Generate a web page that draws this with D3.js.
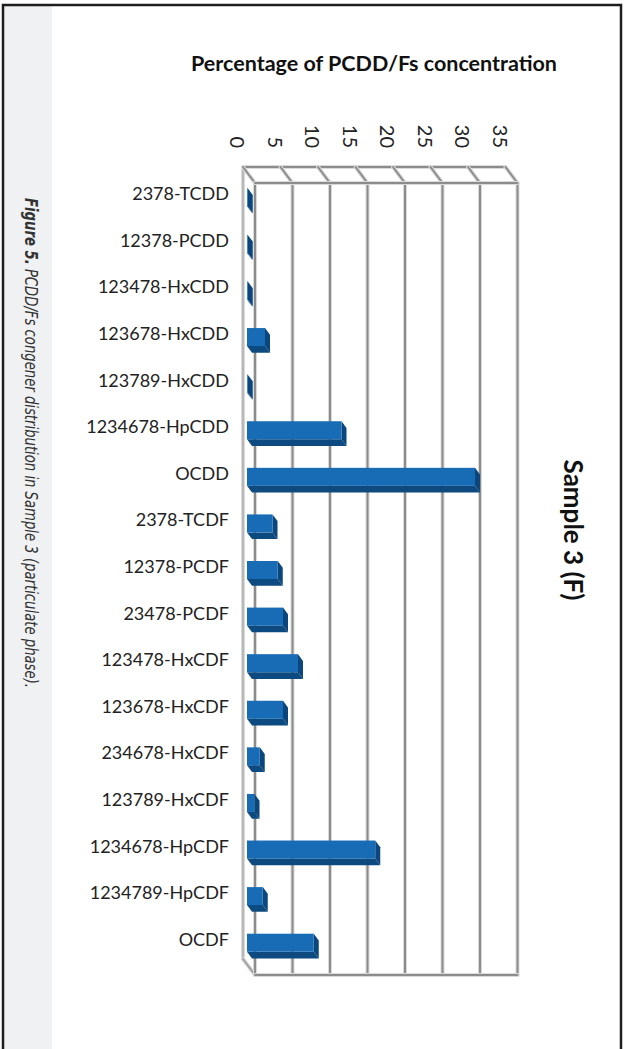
<!DOCTYPE html>
<html>
<head>
<meta charset="utf-8">
<script src="https://cdn.jsdelivr.net/npm/d3@7"></script>
<style>
  html, body { margin: 0; padding: 0; background: #fff; }
  svg { display: block; }
</style>
</head>
<body>
<script>
// Congeners along the category axis
const categories = [
  "2378-TCDD", "12378-PCDD", "123478-HxCDD", "123678-HxCDD", "123789-HxCDD",
  "1234678-HpCDD", "OCDD", "2378-TCDF", "12378-PCDF", "23478-PCDF",
  "123478-HxCDF", "123678-HxCDF", "234678-HxCDF", "123789-HxCDF",
  "1234678-HpCDF", "1234789-HpCDF", "OCDF"
];
// Percentage of total PCDD/Fs concentration
const values = [0.1, 0.1, 0.1, 2.4, 0.1, 12.6, 30.4, 3.4, 4.1, 4.8, 6.8, 4.8, 1.7, 1.0, 17.1, 2.1, 8.9];
const tickValues = [0, 5, 10, 15, 20, 25, 30, 35];

const chartTitle = "Percentage of PCDD/Fs concentration";
const seriesTitle = "Sample 3 (F)";
const captionLead = "Figure 5.";
const captionText = " PCDD/Fs congener distribution in Sample 3 (particulate phase).";

const W = 625, H = 1049;
const svg = d3.select("body").append("svg").attr("width", W).attr("height", H);

// page frame and caption strip
svg.append("rect").attr("x", 0).attr("y", 0).attr("width", W).attr("height", H).attr("fill", "#fff");
svg.append("rect").attr("x", 4).attr("y", 6).attr("width", 48).attr("height", H).attr("fill", "#f0f1f3");
svg.append("path")
  .attr("d", `M3,${H} V5 H621 V${H}`)
  .attr("fill", "none").attr("stroke", "#1e1e1e").attr("stroke-width", 2.5);

// scales: value runs left→right on the back wall, categories top→bottom
const x = d3.scaleLinear().domain([0, 35]).range([255, 517.5]);
const y = d3.scaleBand().domain(categories).range([170, 962]);
const wallTop = 183, wallBottom = 975;
const depth = { dx: -12, dy: -16 };   // wall depth (towards viewer)
const barOff = -8;                    // bar front face shift from back wall
const barDepth = { dx: 5, dy: 6.7 };  // bar thickness
const barH = 18;

const grid = svg.append("g");
function line(x1, y1, x2, y2, main) {
  grid.append("line").attr("x1", x1).attr("y1", y1).attr("x2", x2).attr("y2", y2)
    .attr("stroke", "#dadada").attr("stroke-width", 4).attr("stroke-linecap", "round");
  grid.append("line").attr("x1", x1).attr("y1", y1).attr("x2", x2).attr("y2", y2)
    .attr("stroke", main || "#8c8c8c").attr("stroke-width", 2).attr("stroke-linecap", "round");
}

// floor (left strip)
line(x(0) + depth.dx, wallTop + depth.dy, x(0) + depth.dx, wallBottom + depth.dy, "#b8b8b8");
line(x(0) + depth.dx, wallBottom + depth.dy, x(0), wallBottom, "#a0a0a0");
// side wall (top strip)
line(x(0) + depth.dx, wallTop + depth.dy, x(35) + depth.dx, wallTop + depth.dy);
tickValues.forEach(v => line(x(v) + depth.dx, wallTop + depth.dy, x(v), wallTop));
// back wall gridlines
tickValues.forEach(v => line(x(v), wallTop, x(v), wallBottom));
line(x(0), wallTop, x(35), wallTop);
line(x(0), wallBottom, x(35), wallBottom);

// bars
const bars = svg.append("g").selectAll("g").data(categories.map((c, i) => ({ c, v: values[i] })))
  .join("g");
bars.each(function(d) {
  const g = d3.select(this);
  const x0 = x(0) + barOff, x1 = x(d.v) + barOff;
  const y0 = y(d.c) + y.bandwidth() / 2 - 5, y1 = y0 + barH;
  const bx = barDepth.dx, by = barDepth.dy;
  g.append("path")
    .attr("d", `M${x0},${y1} L${x1},${y1} L${x1 + bx},${y1 + by} L${x0 + bx},${y1 + by} Z`)
    .attr("fill", "#0d4a80");
  g.append("path")
    .attr("d", `M${x1},${y0} L${x1 + bx},${y0 + by} L${x1 + bx},${y1 + by} L${x1},${y1} Z`)
    .attr("fill", "#0b477c");
  g.append("rect").attr("x", x0).attr("y", y0).attr("width", Math.max(0, x1 - x0)).attr("height", barH)
    .attr("fill", "#176cb5");
});

const font = "Lato, 'Open Sans', sans-serif";

// category labels
svg.append("g").selectAll("text").data(categories).join("text")
  .attr("x", 229).attr("y", d => y(d) + y.bandwidth() / 2)
  .attr("text-anchor", "end").attr("dominant-baseline", "central")
  .attr("font-family", font).attr("font-size", 18).attr("fill", "#222")
  .text(d => d);

// value tick labels, rotated to read downward
svg.append("g").selectAll("text").data(tickValues).join("text")
  .attr("transform", v => `translate(${x(v) + depth.dx - 13},148) rotate(90)`)
  .attr("text-anchor", "end")
  .attr("font-family", font).attr("font-size", 20).attr("fill", "#222")
  .text(v => v);

// title
svg.append("text").attr("x", 374).attr("y", 71).attr("text-anchor", "middle")
  .attr("font-family", font).attr("font-weight", "bold").attr("font-size", 21.5).attr("fill", "#111")
  .text(chartTitle);

// series name on the right
svg.append("text").attr("transform", "translate(564,530) rotate(90)")
  .attr("text-anchor", "middle")
  .attr("font-family", font).attr("font-weight", "bold").attr("font-size", 26).attr("fill", "#111")
  .text(seriesTitle);

// figure caption
const cap = svg.append("text").attr("transform", "translate(25,198) rotate(90)")
  .attr("font-family", "'Liberation Sans Narrow', 'DejaVu Sans Condensed', sans-serif")
  .attr("font-style", "italic").attr("font-size", 18).attr("fill", "#333")
  .attr("textLength", 490).attr("lengthAdjust", "spacingAndGlyphs");
cap.append("tspan").attr("font-weight", "bold").text(captionLead);
cap.append("tspan").text(captionText);
</script>
</body>
</html>
